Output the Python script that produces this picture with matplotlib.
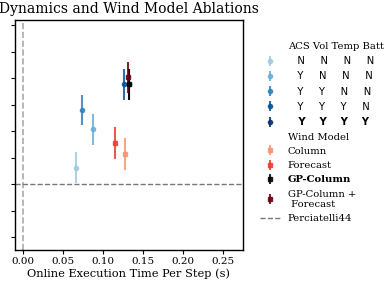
import matplotlib.pyplot as plt
from matplotlib.lines import Line2D

# ablation results (x: time per step, y: score in tick units, err: +/-)
abl_labels = ['   N     N     N     N', '   Y     N     N     N', '   Y     Y     N     N',
              '   Y     Y     Y     N', '   Y    Y    Y    Y']
abl_x = [0.066, 0.0872, 0.0735, 0.1258, 0.1325]
abl_y = [0.62, 2.07, 2.79, 3.76, 3.76]
abl_err = [0.6, 0.58, 0.58, 0.6, 0.6]
abl_colors = ['#9ecae1', '#6baed6', '#3182bd', '#08519c', '#08306b']

wind_labels = ['Column', 'Forecast', 'GP-Column', 'GP-Column +\n Forecast']
wind_x = [0.1275, 0.1146, 0.1325, 0.1308]
wind_y = [1.14, 1.55, 3.76, 4.03]
wind_err = [0.61, 0.62, 0.6, 0.59]
wind_colors = ['#fc9272', '#ef3b2c', '#000000', '#67000d']

plt.rcParams['font.family'] = 'DejaVu Serif'

fig = plt.figure(figsize=(3.89, 2.87), dpi=100)
ax = fig.add_axes([0.0386, 0.129, 0.586, 0.803])

ax.axvline(0, color='#aaaaaa', ls='--', lw=1.2, zorder=0)
base = ax.axhline(0, color='#777777', ls='--', lw=1.0, zorder=0)

handles = []
for x, y, e, c in zip(abl_x, abl_y, abl_err, abl_colors):
    h = ax.errorbar(x, y, yerr=e, fmt='o', color=c, ms=3, lw=1.5, alpha=0.85)
    handles.append(h)
wind_handles = []
for x, y, e, c in zip(wind_x, wind_y, wind_err, wind_colors):
    h = ax.errorbar(x, y, yerr=e, fmt='s', color=c, ms=3.5, lw=1.5, alpha=0.85)
    wind_handles.append(h)

ax.set_xlim(-0.0096, 0.2745)
ax.set_ylim(-2.49, 6.21)
ax.set_xticks([0, 0.05, 0.1, 0.15, 0.2, 0.25])
ax.set_yticks(range(-2, 7))
ax.set_yticklabels([])
ax.tick_params(axis='x', labelsize=7.5, length=3, pad=2)
ax.tick_params(axis='y', length=3)
for s in ax.spines.values():
    s.set_linewidth(1.0)
ax.set_xlabel('Online Execution Time Per Step (s)', fontsize=8.2, labelpad=2)
ax.set_title('Dynamics and Wind Model Ablations', fontsize=10, pad=5)

blank = Line2D([], [], color='none')
leg_handles = [blank] + handles + [blank] + wind_handles + [base]
leg_labels = (['ACS Vol Temp Batt'] + abl_labels + ['Wind Model'] + wind_labels
              + ['Perciatelli44'])
leg = fig.legend(leg_handles, leg_labels, loc='upper left', bbox_to_anchor=(0.655, 0.872),
                 frameon=False, fontsize=7.2, labelspacing=0.53, borderpad=0,
                 handlelength=2, handletextpad=0.8)
texts = leg.get_texts()
for t in texts[1:6]:
    t.set_fontfamily('DejaVu Sans')
texts[5].set_fontweight('bold')
texts[9].set_fontweight('bold')

fig.savefig('out.png', dpi=100)
